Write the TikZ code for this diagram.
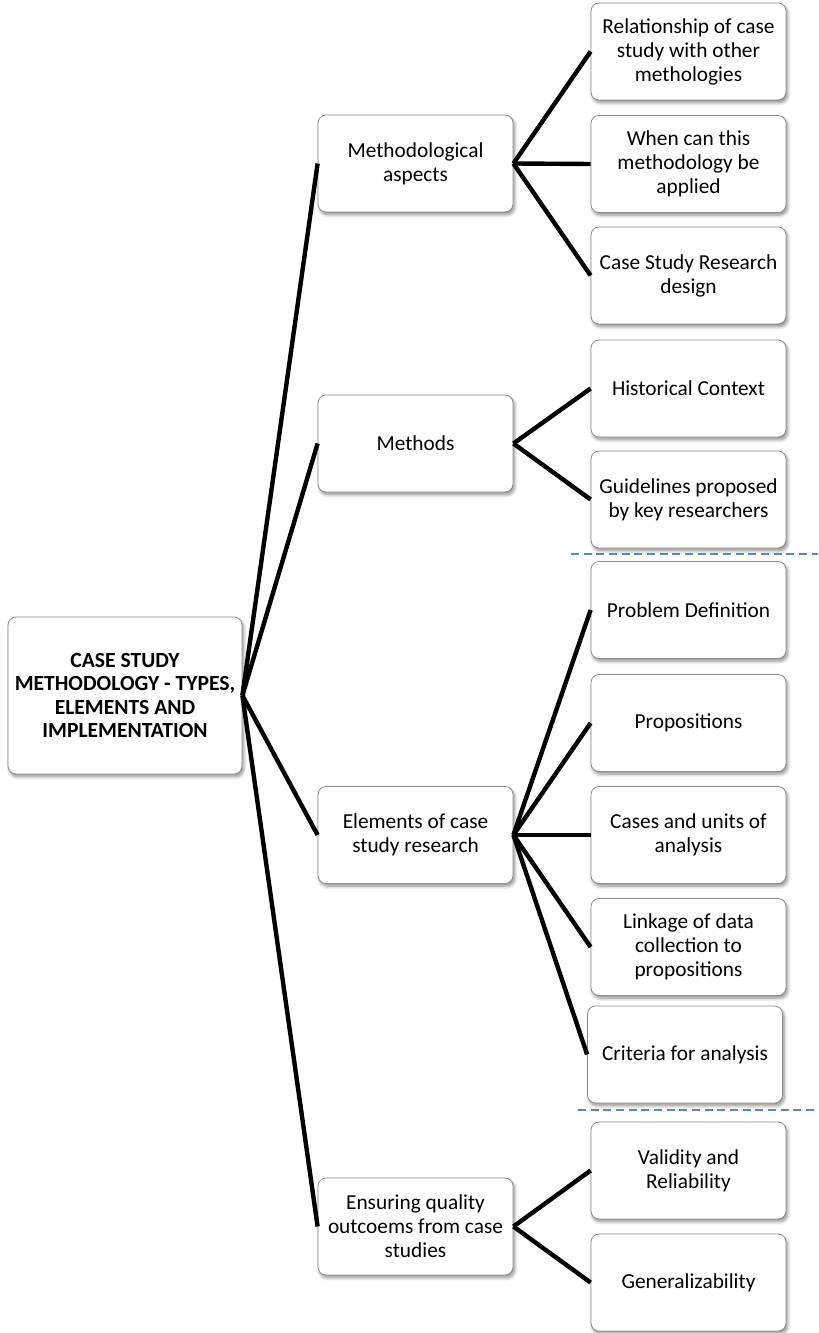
\documentclass[tikz,border=0pt]{standalone}
\usepackage{fontspec}
\setmainfont{Carlito}
\usetikzlibrary{shadows.blur}
\definecolor{boxline}{HTML}{8C8C8C}
\definecolor{sepblue}{HTML}{5B86C5}
\tikzset{
  box/.style={draw=boxline, line width=0.6pt, fill=white, rounded corners=6pt,
    minimum width=146.25pt, minimum height=72.75pt, align=center, inner sep=1pt,
    font=\fontsize{16}{18}\selectfont,
    blur shadow={shadow xshift=1.2pt, shadow yshift=-2pt, shadow blur steps=6, shadow blur radius=2.5pt, shadow opacity=45}},
  rootbox/.style={box, minimum width=175.5pt, minimum height=117.75pt,
    font=\fontsize{16.2}{17.5}\selectfont\bfseries},
  link/.style={line width=3.3pt, black},
  sep/.style={sepblue, line width=1.5pt, dash pattern=on 6pt off 3.5pt}
}
\begin{document}
\begin{tikzpicture}[x=0.75pt, y=-0.75pt]
  \useasboundingbox (0,0) rectangle (818,1333);

  % root
  \node[rootbox] (root) at (125,695.5) {CASE STUDY\\METHODOLOGY - TYPES,\\ELEMENTS AND\\IMPLEMENTATION};

  % first level
  \node[box] (meth) at (415.5,163.5) {Methodological\\aspects};
  \node[box] (mtd)  at (415.5,443.5) {Methods};
  \node[box] (elem) at (415.5,835)   {Elements of case\\study research};
  \node[box] (qual) at (415.5,1226.5) {Ensuring quality\\outcoems from case\\studies};

  % second level
  \node[box] (rel)    at (688.5,51.5)  {Relationship of case\\study with other\\methologies};
  \node[box] (when)   at (688.5,164)   {When can this\\methodology be\\applied};
  \node[box] (design) at (688.5,275.5) {Case Study Research\\design};
  \node[box] (hist)   at (688.5,388.5) {Historical Context};
  \node[box] (guide)  at (688.5,499.5) {Guidelines proposed\\by key researchers};
  \node[box] (prob)   at (688.5,610)   {Problem Definition};
  \node[box] (prop)   at (688.5,723)   {Propositions};
  \node[box] (cases)  at (688.5,835)   {Cases and units of\\analysis};
  \node[box] (linkd)  at (688.5,947)   {Linkage of data\\collection to\\propositions};
  \node[box] (crit)   at (685,1054.5)  {Criteria for analysis};
  \node[box] (valid)  at (688.5,1170.5) {Validity and\\Reliability};
  \node[box] (gen)    at (688.5,1282.5) {Generalizability};

  % connectors
  \foreach \t in {meth,mtd,elem,qual}
    \draw[link] (root.east) -- (\t.west);
  \foreach \t in {rel,when,design}
    \draw[link] (meth.east) -- (\t.west);
  \foreach \t in {hist,guide}
    \draw[link] (mtd.east) -- (\t.west);
  \foreach \t in {prob,prop,cases,linkd,crit}
    \draw[link] (elem.east) -- (\t.west);
  \foreach \t in {valid,gen}
    \draw[link] (qual.east) -- (\t.west);

  % separators
  \coordinate (s1a) at (571,554);
  \coordinate (s1b) at (818,554);
  \coordinate (s2a) at (578,1110);
  \coordinate (s2b) at (818,1110);
  \draw[sep] (s1a) -- (s1b);
  \draw[sep] (s2a) -- (s2b);
\end{tikzpicture}
\end{document}
